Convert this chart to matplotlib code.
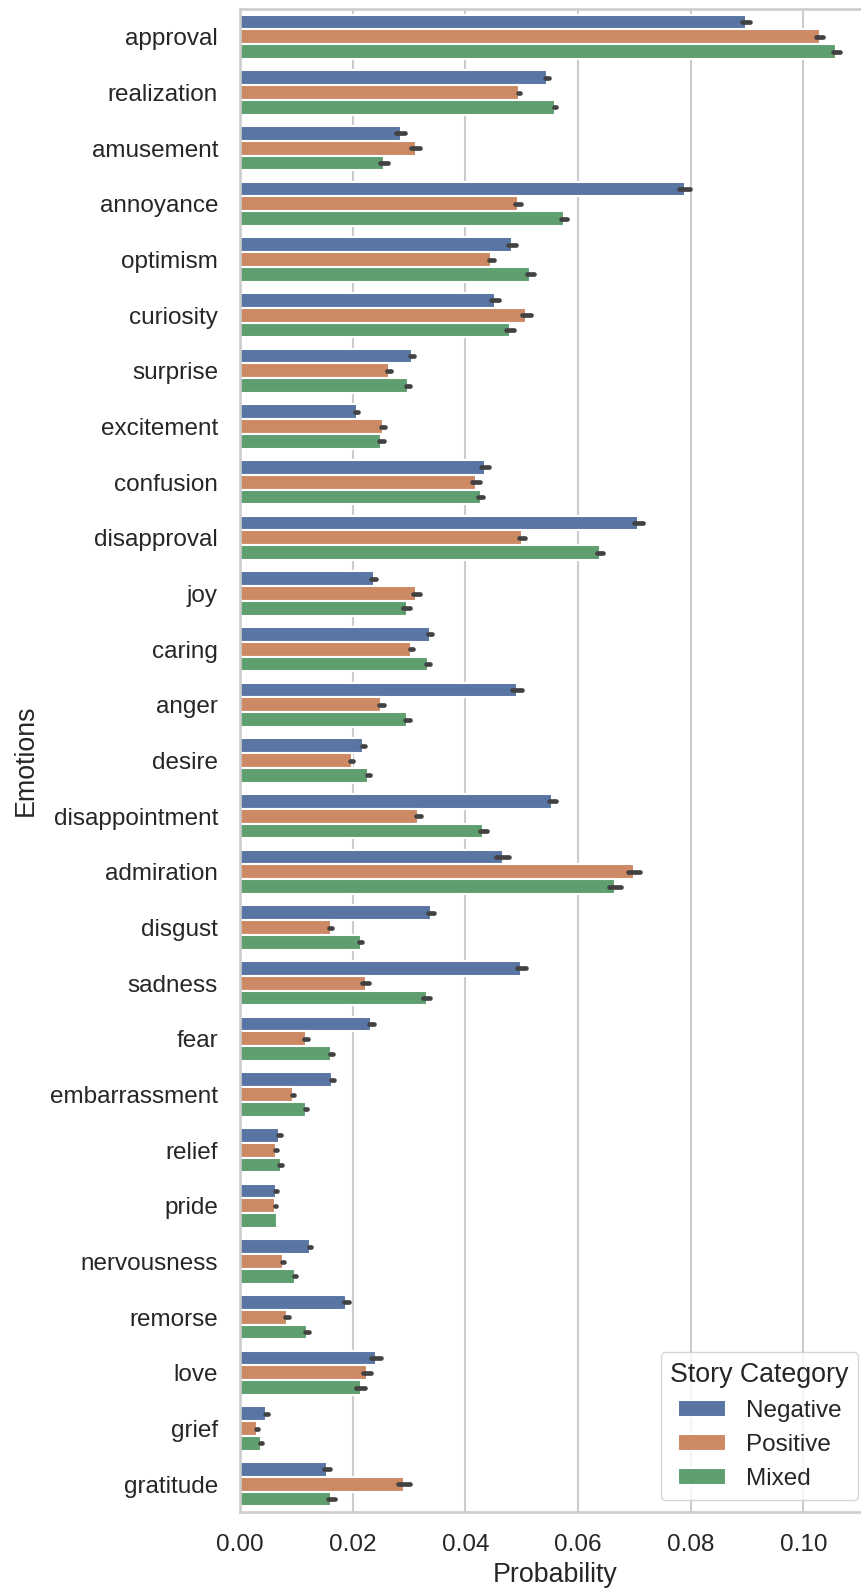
import colorsys

import matplotlib
matplotlib.use("Agg")
import matplotlib.pyplot as plt
from matplotlib.colors import to_rgb
from matplotlib.ticker import FormatStrFormatter

plt.rcParams["font.family"] = ["Liberation Sans", "DejaVu Sans"]
plt.rcParams["text.color"] = ".15"
plt.rcParams["axes.labelcolor"] = ".15"
plt.rcParams["xtick.color"] = ".15"
plt.rcParams["ytick.color"] = ".15"

# Mean emotion probabilities per story category
emotions = [
    "approval", "realization", "amusement", "annoyance", "optimism",
    "curiosity", "surprise", "excitement", "confusion", "disapproval",
    "joy", "caring", "anger", "desire", "disappointment", "admiration",
    "disgust", "sadness", "fear", "embarrassment", "relief", "pride",
    "nervousness", "remorse", "love", "grief", "gratitude",
]
categories = ["Negative", "Positive", "Mixed"]

negative = [0.0898, 0.0545, 0.0285, 0.0789, 0.0483, 0.0453, 0.0306, 0.0207,
            0.0435, 0.0707, 0.0237, 0.0337, 0.0492, 0.0219, 0.0554, 0.0466,
            0.0339, 0.0499, 0.0233, 0.0164, 0.0070, 0.0064, 0.0124, 0.0189,
            0.0241, 0.0047, 0.0155]
positive = [0.1029, 0.0495, 0.0312, 0.0493, 0.0446, 0.0508, 0.0264, 0.0254,
            0.0419, 0.0501, 0.0313, 0.0304, 0.0251, 0.0198, 0.0316, 0.0699,
            0.0161, 0.0223, 0.0117, 0.0094, 0.0064, 0.0063, 0.0076, 0.0084,
            0.0226, 0.0030, 0.0291]
mixed = [0.1058, 0.0559, 0.0256, 0.0575, 0.0515, 0.0479, 0.0298, 0.0251,
         0.0427, 0.0639, 0.0296, 0.0334, 0.0297, 0.0228, 0.0432, 0.0666,
         0.0214, 0.0331, 0.0162, 0.0117, 0.0072, 0.0066, 0.0098, 0.0119,
         0.0214, 0.0037, 0.0162]

# Half-widths of the 95% confidence intervals
negative_ci = [0.00066, 0.00034, 0.00074, 0.0010, 0.0007, 0.0007, 0.00034,
               0.0003, 0.00066, 0.00074, 0.0005, 0.0004, 0.00091, 0.0003,
               0.00063, 0.00109, 0.0006, 0.0008, 0.0004, 0.00024, 0.00024,
               0.00016, 0.00024, 0.0005, 0.00084, 0.00023, 0.00056]
positive_ci = [0.0006, 0.0002, 0.0008, 0.0005, 0.0004, 0.0008, 0.00038,
               0.00038, 0.00066, 0.00056, 0.00056, 0.0003, 0.00038, 0.0003,
               0.00045, 0.00109, 0.0003, 0.00056, 0.0003, 0.0002, 0.0002,
               0.00016, 0.00016, 0.00038, 0.0007, 0.00015, 0.0010]
mixed_ci = [0.0006, 0.00024, 0.0007, 0.0005, 0.0006, 0.00067, 0.00034,
            0.00045, 0.0005, 0.0006, 0.00066, 0.00034, 0.0004, 0.00034,
            0.00056, 0.00106, 0.0003, 0.0006, 0.0003, 0.00024, 0.0002,
            0.0, 0.0002, 0.0003, 0.00076, 0.00023, 0.0006]

values = [negative, positive, mixed]
errors = [negative_ci, positive_ci, mixed_ci]
base_colors = ["#4C72B0", "#DD8452", "#55A868"]


def desaturate(color, prop):
    h, l, s = colorsys.rgb_to_hls(*to_rgb(color))
    return colorsys.hls_to_rgb(h, l, s * prop)


colors = [desaturate(c, 0.75) for c in base_colors]

fig = plt.figure(figsize=(8.61, 15.89), dpi=100)
ax = fig.add_axes([240 / 861, 77 / 1589, 630.5 / 861, 1503 / 1589])

n = len(categories)
bar_h = 0.8 / n
for j, (cat, vals, errs, col) in enumerate(zip(categories, values, errors, colors)):
    ys = [i + (j - (n - 1) / 2) * bar_h for i in range(len(emotions))]
    ax.barh(ys, vals, height=bar_h, color=col, edgecolor="white",
            linewidth=1.5, label=cat, zorder=2)
    for y, v, e in zip(ys, vals, errs):
        if e > 0:
            ax.plot([v - e, v + e], [y, y], color=".26", lw=3.375,
                    solid_capstyle="round", zorder=3)

ax.set_yticks(range(len(emotions)), emotions)
ax.set_ylim(len(emotions) - 0.5, -0.5)
ax.set_xlim(0, 0.1119)
ax.set_xticks([0.0, 0.02, 0.04, 0.06, 0.08, 0.10])
ax.xaxis.set_major_formatter(FormatStrFormatter("%.2f"))

ax.set_axisbelow(True)
ax.xaxis.grid(True, color=".8", lw=1.5)
ax.yaxis.grid(False)
for sp in ax.spines.values():
    sp.set_color(".8")
    sp.set_linewidth(1.875)

ax.tick_params(axis="both", length=0, pad=15.8, labelsize=17.5)
ax.set_xlabel("Probability", fontsize=19.3, labelpad=4)
ax.set_ylabel("Emotions", fontsize=19.3, labelpad=8)

leg = ax.legend(title="Story Category", loc="lower right", fontsize=17.5,
                title_fontsize=19.3, frameon=True, fancybox=True,
                edgecolor=".8", framealpha=0.8)

fig.savefig("out.png", dpi=100)
